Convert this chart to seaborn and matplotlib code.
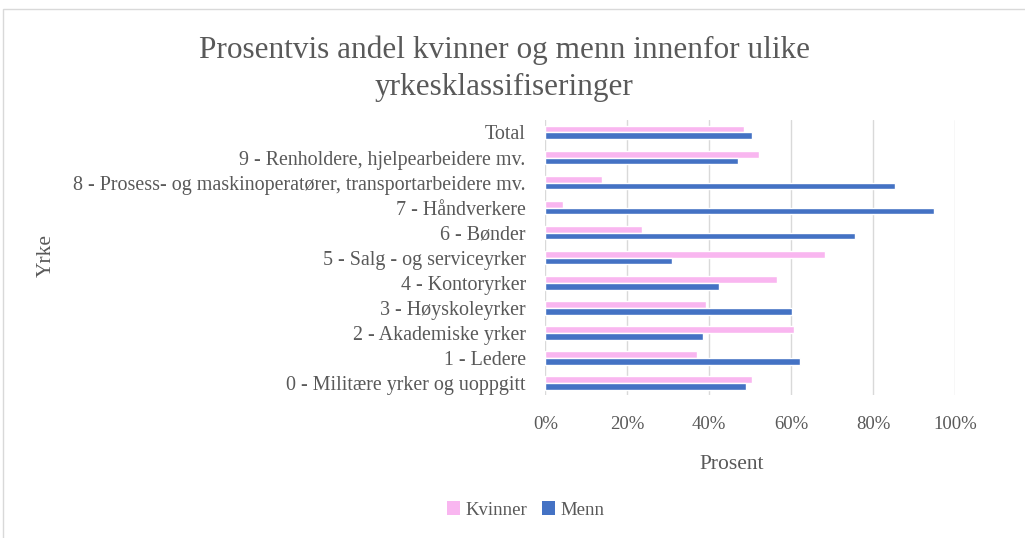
import seaborn as sns
from matplotlib import pyplot as plt
from matplotlib.patches import Patch, Rectangle
from matplotlib.ticker import PercentFormatter
import pandas as pd

yrker = ["Total",
         "9 - Renholdere, hjelpearbeidere mv.",
         "8 - Prosess- og maskinoperatører, transportarbeidere mv.",
         "7 - Håndverkere",
         "6 - Bønder",
         "5 - Salg - og serviceyrker",
         "4 - Kontoryrker",
         "3 - Høyskoleyrker",
         "2 - Akademiske yrker",
         "1 - Ledere",
         "0 - Militære yrker og uoppgitt"]
kvinner = [48.5, 52.2, 13.9, 4.3, 23.5, 68.2, 56.6, 39.2, 60.6, 36.9, 50.5]
menn = [50.5, 46.9, 85.2, 94.8, 75.5, 30.8, 42.4, 60.2, 38.4, 62.2, 48.9]
kjonn = ["Kvinner", "Menn"]
farger = ["#f9b6f0", "#4472c4"]

# long format for seaborn
df = pd.DataFrame({"Yrke": yrker * 2,
                   "Prosent": kvinner + menn,
                   "Kjonn": [kjonn[0]] * len(yrker) + [kjonn[1]] * len(yrker)})

sns.set_style("white")
plt.rcParams['font.family'] = ['Liberation Serif', 'DejaVu Serif']
txt = "#595959"

fig = plt.figure(figsize=(10.25, 5.38), dpi=100)
ax = fig.add_axes([0.532, 0.265, 0.400, 0.512])

sns.barplot(data=df, y="Yrke", x="Prosent", hue="Kjonn", order=yrker,
            hue_order=kjonn, palette=farger, width=0.54, ax=ax,
            orient="h", legend=False, saturation=1)

ax.set_xlim(0, 100)
ax.set_xticks([0, 20, 40, 60, 80, 100])
ax.xaxis.set_major_formatter(PercentFormatter(decimals=0))
ax.grid(axis="x", color="#d9d9d9", linewidth=1)
ax.set_axisbelow(True)
for s in ax.spines.values():
    s.set_visible(False)
ax.tick_params(axis="x", length=0, pad=15, labelsize=13.5, labelcolor=txt)
ax.tick_params(axis="y", length=0, pad=14, labelsize=14.4, labelcolor=txt)

ax.set_ylabel("")
ax.set_xlabel("")
fig.text(0.714, 0.136, "Prosent", ha="center", va="center", fontsize=15.5, color=txt)
fig.text(0.045, 0.525, "Yrke", ha="center", va="center", fontsize=15.5,
         color=txt, rotation=90)

fig.text(0.492, 0.872, "Prosentvis andel kvinner og menn innenfor ulike\nyrkesklassifiseringer",
         ha="center", va="center", fontsize=22.5, color=txt, linespacing=1.35)

handles = [Patch(facecolor=c, edgecolor="none", label=k) for k, c in zip(kjonn, farger)]
fig.legend(handles=handles, loc="center", bbox_to_anchor=(0.513, 0.052), ncol=2,
           frameon=False, fontsize=13.5, labelcolor=txt, handlelength=0.7,
           handleheight=0.7, handletextpad=0.3, columnspacing=0.8)

# thin frame around the chart area
fig.patches.append(Rectangle((0.003, -0.01), 1.0, 0.993, transform=fig.transFigure,
                             fill=False, edgecolor="#d9d9d9", linewidth=1))

fig.savefig("out.png", dpi=100)
